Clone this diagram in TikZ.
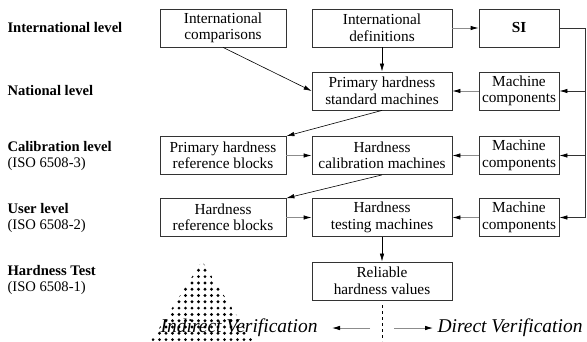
\documentclass[tikz,border=0pt]{standalone}
\usepackage{fontspec}
\setmainfont{Liberation Serif}
\usetikzlibrary{arrows.meta}

\tikzset{
  box/.style={draw=black!80, thick, minimum height=38pt, inner sep=1pt,
    align=center, font=\fontsize{15.3}{16.5}\selectfont},
  wbox/.style={box, minimum width=126pt},
  mbox/.style={box, minimum width=140pt},
  nbox/.style={box, minimum width=80pt},
  level/.style={anchor=west, align=left, font=\fontsize{14.6}{16}\selectfont},
  link/.style={draw=black!45, thick, -{Latex[length=8pt,width=4.5pt,color=black]}},
  dlink/.style={draw=black, semithick, -{Latex[length=8pt,width=4.5pt]}},
  verif/.style={font=\fontsize{19.5}{21}\selectfont\itshape},
}

\begin{document}
\begin{tikzpicture}[x=1pt,y=-1pt]
	\useasboundingbox (0,0) rectangle (587,341);

	%% Levels
	\node[level] (lint) at (4,28) {\textbf{International level}};
	\node[level] (lnat) at (4,91) {\textbf{National level}};
	\node[level] (lcal) at (4,156) {\textbf{Calibration level}\\(ISO 6508-3)};
	\node[level] (luse) at (4,218) {\textbf{User level}\\(ISO 6508-2)};
	\node[level] (ltst) at (4,280) {\textbf{Hardness Test}\\(ISO 6508-1)};

	%% Boxes
	\node[wbox] (icomp) at (223,28) {International\\comparisons};
	\node[mbox] (idef) at (382,28) {International\\definitions};
	\node[nbox] (si) at (519,28) {\textbf{SI}};

	\node[mbox] (psm) at (382,91) {Primary hardness\\standard machines};
	\node[nbox] (mc1) at (519,91) {Machine\\components};

	\node[wbox] (prb) at (223,155.5) {Primary hardness\\reference blocks};
	\node[mbox] (hcm) at (382,155.5) {Hardness\\calibration machines};
	\node[nbox] (mc2) at (519,155.5) {Machine\\components};

	\node[wbox] (hrb) at (223,217.5) {Hardness\\reference blocks};
	\node[mbox] (htm) at (382,217.5) {Hardness\\testing machines};
	\node[nbox] (mc3) at (519,217.5) {Machine\\components};

	\node[mbox] (rhv) at (382,281) {Reliable\\hardness values};

	%% Arrows
	\draw[link] (idef) -- (si);
	\draw[dlink] (idef) -- (psm);
	\draw[dlink] (icomp.south) -- (psm.west);
	\draw[dlink] (psm.south) -- (prb.north east);
	\draw[link] (prb) -- (hcm);
	\draw[dlink] (hcm.south) -- (hrb.north east);
	\draw[link] (hrb) -- (htm);
	\draw[dlink] (htm) -- (rhv);
	\draw[link] (mc1) -- (psm);
	\draw[link] (mc2) -- (hcm);
	\draw[link] (mc3) -- (htm);

	%% SI feeds the machine components
	\coordinate (bustop) at (585,28);
	\coordinate (bus1) at (585,91);
	\coordinate (bus2) at (585,155.5);
	\coordinate (busend) at (585,217.5);
	\draw[semithick, black!80] (si.east) -- (bustop) -- (busend);
	\draw[link, draw=black!80] (bus1) -- (mc1);
	\draw[link, draw=black!80] (bus2) -- (mc2);
	\draw[link, draw=black!80] (busend) -- (mc3);

	%% Dotted triangle
	\begin{scope}
		\clip (202,261) -- (253,341) -- (151,341) -- cycle;
		\foreach \i in {0,...,12}
			\foreach \j in {0,...,15}
				\fill (153+6.5*\j,264+6.3*\i) circle (1.6);
	\end{scope}

	%% Verification
	\node[verif, anchor=east] (indir) at (321,328) {Indirect Verification};
	\node[verif, anchor=west] (dir) at (434,328) {Direct Verification};
	\coordinate (ltail) at (370,328);
	\coordinate (lhead) at (332,328);
	\coordinate (rtail) at (394,328);
	\coordinate (rhead) at (433,328);
	\coordinate (dtop) at (382,305);
	\coordinate (dbot) at (382,341);
	\draw[link] (ltail) -- (lhead);
	\draw[link] (rtail) -- (rhead);
	\draw[dashed, thick] (dtop) -- (dbot);
\end{tikzpicture}
\end{document}
